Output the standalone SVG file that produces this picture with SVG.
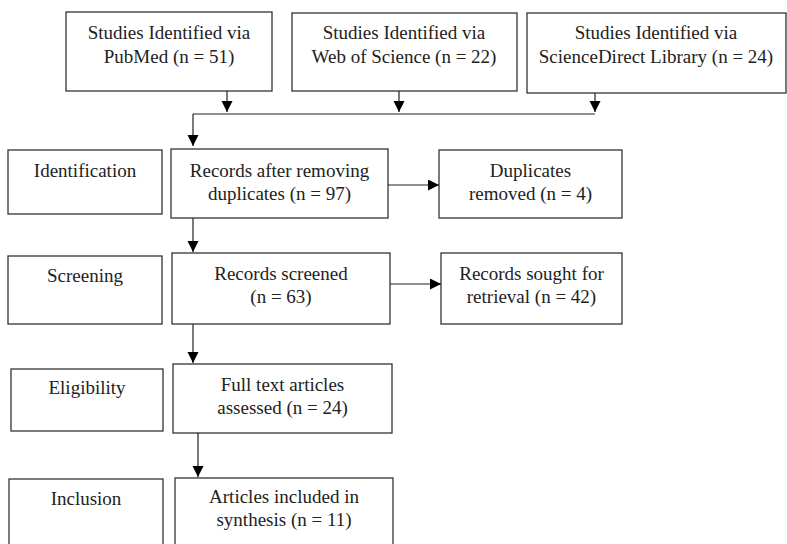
<svg xmlns="http://www.w3.org/2000/svg" width="787" height="544" viewBox="0 0 787 544">
<defs>
<style>
rect{fill:#fff;stroke:#333;stroke-width:1.3}
text{font-family:"Liberation Serif","Times New Roman",serif;font-size:19px;fill:#222;text-anchor:middle}
.c line,.c path{stroke:#222;stroke-width:1.2;fill:none}
</style>
<marker id="ah" markerUnits="userSpaceOnUse" markerWidth="11" markerHeight="12" refX="11" refY="5.5" orient="auto">
<path d="M0,0 L11,5.5 L0,11 z" fill="#000"/>
</marker>
</defs>
<rect x="0" y="0" width="787" height="544" style="fill:#fff;stroke:none"/>
<g id="pubmed"><rect x="66" y="12" width="206" height="79"/><text x="169" y="39">Studies Identified via</text><text x="169" y="63">PubMed (n = 51)</text></g>
<g id="wos"><rect x="292" y="13" width="225" height="78"/><text x="404" y="39">Studies Identified via</text><text x="404" y="63">Web of Science (n = 22)</text></g>
<g id="sd"><rect x="527" y="13" width="259" height="80"/><text x="656" y="39">Studies Identified via</text><text x="656" y="63">ScienceDirect Library (n = 24)</text></g>
<g id="identification"><rect x="8" y="150" width="154" height="64"/><text x="85" y="177">Identification</text></g>
<g id="records-after"><rect x="171" y="149" width="217" height="69"/><text x="279.5" y="177">Records after removing</text><text x="279.5" y="200">duplicates (n = 97)</text></g>
<g id="duplicates"><rect x="439" y="150" width="183" height="68"/><text x="530.5" y="177">Duplicates</text><text x="530.5" y="200">removed (n = 4)</text></g>
<g id="screening"><rect x="8" y="256" width="154" height="68"/><text x="85" y="282">Screening</text></g>
<g id="screened"><rect x="172" y="253" width="218" height="71"/><text x="281" y="280">Records screened</text><text x="281" y="303">(n = 63)</text></g>
<g id="sought"><rect x="441" y="253" width="181" height="71"/><text x="531.5" y="280">Records sought for</text><text x="531.5" y="303">retrieval (n = 42)</text></g>
<g id="eligibility"><rect x="11" y="369" width="152" height="62"/><text x="87" y="394">Eligibility</text></g>
<g id="fulltext"><rect x="173" y="364" width="219" height="69"/><text x="282.5" y="391">Full text articles</text><text x="282.5" y="414">assessed (n = 24)</text></g>
<g id="inclusion"><rect x="9" y="479" width="154" height="80"/><text x="86" y="505">Inclusion</text></g>
<g id="included"><rect x="175" y="478" width="218" height="80"/><text x="284" y="503">Articles included in</text><text x="284" y="526">synthesis (n = 11)</text></g>
<g id="connectors" class="c">
<line x1="227" y1="91" x2="227" y2="112" marker-end="url(#ah)"/>
<line x1="399" y1="91" x2="399" y2="112" marker-end="url(#ah)"/>
<line x1="595" y1="93" x2="595" y2="112" marker-end="url(#ah)"/>
<line x1="193" y1="114" x2="595" y2="114"/>
<line x1="193" y1="114" x2="193" y2="146" marker-end="url(#ah)"/>
<line x1="193" y1="218" x2="193" y2="252" marker-end="url(#ah)"/>
<line x1="193" y1="324" x2="193" y2="363" marker-end="url(#ah)"/>
<line x1="198" y1="433" x2="198" y2="477" marker-end="url(#ah)"/>
<line x1="388" y1="185" x2="439" y2="185" marker-end="url(#ah)"/>
<line x1="390" y1="284" x2="441" y2="284" marker-end="url(#ah)"/>
</g>
</svg>
